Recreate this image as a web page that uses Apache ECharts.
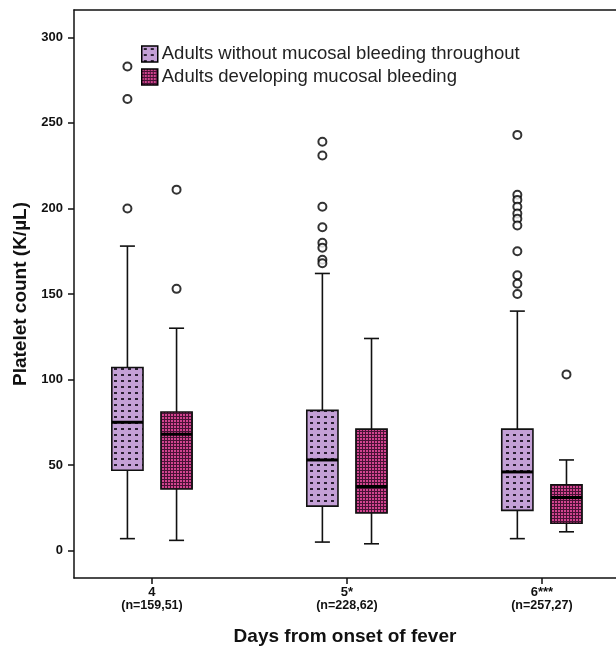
<!DOCTYPE html>
<html>
<head>
<meta charset="utf-8">
<script src="https://cdn.jsdelivr.net/npm/echarts@6/dist/echarts.min.js"></script>
<style>
  html, body { margin: 0; padding: 0; background: #fff; }
  #main { width: 616px; height: 655px; }
</style>
</head>
<body>
<div id="main"></div>
<script>
// category (day) labels under the x axis
var categories = ['4', '5*', '6***'];
var sampleSizes = ['(n=159,51)', '(n=228,62)', '(n=257,27)'];
var dayValues = [4, 5, 6];
var yTicks = [0, 50, 100, 150, 200, 250, 300];

// [lower whisker, Q1, median, Q3, upper whisker]
var withoutStats = [[7, 47, 75, 107, 178], [5, 26, 53, 82, 162], [7, 23.5, 46, 71, 140]];
var bleedingStats = [[6, 36, 68, 81, 130], [4, 22, 37.5, 71, 124], [11, 16, 31, 38.5, 53]];

var withoutOutliers = [
    [283, 264, 200],
    [239, 231, 201, 189, 180, 177, 170, 168],
    [243, 208, 205, 201, 197, 194, 190, 175, 161, 156, 150]
];
var bleedingOutliers = [[211, 153], [], [103]];

var seriesNames = ['Adults without mucosal bleeding throughout', 'Adults developing mucosal bleeding'];

var BOX_W = 0.16;
var CAP_W = 0.077;
var OFFSET = 0.126;

// fill patterns
function makePattern(w, h, bg, draw) {
    var c = document.createElement('canvas');
    c.width = w; c.height = h;
    var ctx = c.getContext('2d');
    ctx.fillStyle = bg;
    ctx.fillRect(0, 0, w, h);
    draw(ctx);
    return { image: c, repeat: 'repeat' };
}
var purpleFill = makePattern(7, 6, '#c4a0d6', function(ctx) {
    ctx.fillStyle = '#2b1f33';
    ctx.fillRect(2, 2, 3, 2);
});
var magentaFill = makePattern(3, 3, '#4a1236', function(ctx) {
    ctx.fillStyle = '#d2448f';
    ctx.fillRect(0, 0, 2, 2);
});

function boxRenderer(offset, fill) {
    return function(params, api) {
        var x = api.value(0) + offset;
        var cx = api.coord([x, 0])[0];
        var half = api.size([BOX_W, 0])[0] / 2;
        var cap = api.size([CAP_W, 0])[0] / 2;
        var yLo = api.coord([x, api.value(1)])[1];
        var yQ1 = api.coord([x, api.value(2)])[1];
        var yMd = api.coord([x, api.value(3)])[1];
        var yQ3 = api.coord([x, api.value(4)])[1];
        var yHi = api.coord([x, api.value(5)])[1];
        var ln = { stroke: '#111', lineWidth: 1.6 };
        return {
            type: 'group',
            children: [
                { type: 'line', shape: { x1: cx, y1: yHi, x2: cx, y2: yQ3 }, style: ln },
                { type: 'line', shape: { x1: cx, y1: yQ1, x2: cx, y2: yLo }, style: ln },
                { type: 'line', shape: { x1: cx - cap, y1: yHi, x2: cx + cap, y2: yHi }, style: ln },
                { type: 'line', shape: { x1: cx - cap, y1: yLo, x2: cx + cap, y2: yLo }, style: ln },
                { type: 'rect', shape: { x: cx - half, y: yQ3, width: half * 2, height: yQ1 - yQ3 },
                  style: { fill: fill, stroke: '#111', lineWidth: 1.6 } },
                { type: 'line', shape: { x1: cx - half, y1: yMd, x2: cx + half, y2: yMd },
                  style: { stroke: '#000', lineWidth: 3 } }
            ]
        };
    };
}

function boxData(stats) {
    return stats.map(function(s, i) { return [dayValues[i]].concat(s); });
}
function outlierData(list, offset) {
    var pts = [];
    list.forEach(function(vals, i) {
        vals.forEach(function(v) { pts.push([dayValues[i] + offset, v]); });
    });
    return pts;
}

var myChart = echarts.init(document.getElementById('main'));
var outlierStyle = { color: '#fff', borderColor: '#000', borderWidth: 2 };

option = {
    animation: false,
    textStyle: { fontFamily: 'Liberation Sans, Arial, sans-serif' },
    grid: { left: 74, right: 0, top: 10, bottom: 77, outerBoundsMode: 'none' },
    legend: {
        orient: 'vertical',
        left: 141,
        top: 44,
        padding: 0,
        itemWidth: 16,
        itemHeight: 16,
        itemGap: 3,
        icon: 'rect',
        data: seriesNames,
        itemStyle: { borderColor: '#000', borderWidth: 1.5 },
        textStyle: { fontSize: 18.5, lineHeight: 20, color: '#222', padding: [0, 0, 0, -1] }
    },
    xAxis: [{
        type: 'value',
        min: 3.6,
        max: 6.38,
        name: 'Days from onset of fever',
        nameLocation: 'middle',
        nameGap: 49,
        nameTextStyle: { fontSize: 19, fontWeight: 'bold', color: '#111' },
        axisLine: { onZero: false, lineStyle: { color: '#111', width: 1.5 } },
        axisTick: { customValues: dayValues, length: 6, lineStyle: { color: '#111', width: 1.5 } },
        axisLabel: {
            customValues: dayValues,
            margin: 8,
            formatter: function(v) {
                var i = dayValues.indexOf(v);
                return '{a|' + categories[i] + '}\n{b|' + sampleSizes[i] + '}';
            },
            rich: {
                a: { fontSize: 13, fontWeight: 'bold', color: '#111', lineHeight: 13 },
                b: { fontSize: 12.5, fontWeight: 'bold', color: '#111', lineHeight: 14 }
            }
        },
        splitLine: { show: false }
    }, {
        type: 'value',
        position: 'top',
        min: 3.6,
        max: 6.38,
        axisLine: { show: true, onZero: false, lineStyle: { color: '#111', width: 1.5 } },
        axisTick: { show: false },
        axisLabel: { show: false },
        splitLine: { show: false }
    }],
    yAxis: {
        type: 'value',
        min: -16,
        max: 316,
        name: 'Platelet count (K/\u00b5L)',
        nameLocation: 'middle',
        nameGap: 42,
        nameTextStyle: { fontSize: 19, fontWeight: 'bold', color: '#111' },
        axisLine: { show: true, onZero: false, lineStyle: { color: '#111', width: 1.5 } },
        axisTick: { show: true, customValues: yTicks, length: 6, lineStyle: { color: '#111', width: 1.5 } },
        axisLabel: { customValues: yTicks, margin: 11, fontSize: 13, fontWeight: 'bold', color: '#111' },
        splitLine: { show: false }
    },
    series: [
        {
            name: seriesNames[0],
            type: 'custom',
            renderItem: boxRenderer(-OFFSET, purpleFill),
            itemStyle: { color: purpleFill, borderColor: '#000', borderWidth: 1.5 },
            encode: { x: 0, y: [1, 2, 3, 4, 5] },
            data: boxData(withoutStats)
        },
        {
            name: seriesNames[1],
            type: 'custom',
            renderItem: boxRenderer(OFFSET, magentaFill),
            itemStyle: { color: magentaFill, borderColor: '#000', borderWidth: 1.5 },
            encode: { x: 0, y: [1, 2, 3, 4, 5] },
            data: boxData(bleedingStats)
        },
        {
            name: 'outliers without',
            type: 'scatter',
            symbol: 'circle',
            symbolSize: 8,
            itemStyle: outlierStyle,
            z: 5,
            data: outlierData(withoutOutliers, -OFFSET)
        },
        {
            name: 'outliers bleeding',
            type: 'scatter',
            symbol: 'circle',
            symbolSize: 8,
            itemStyle: outlierStyle,
            z: 5,
            data: outlierData(bleedingOutliers, OFFSET)
        }
    ]
};
myChart.setOption(option);
</script>
</body>
</html>
